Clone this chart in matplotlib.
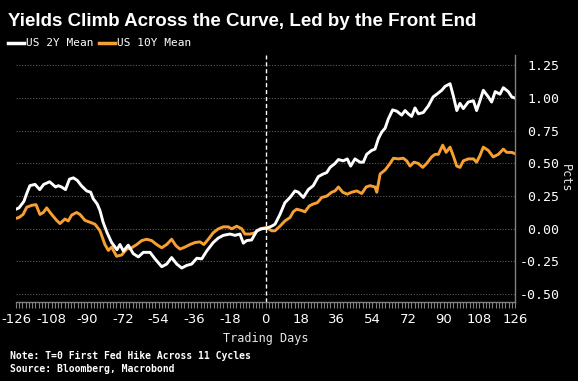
import matplotlib.pyplot as plt
import numpy as np

# Data (trading days relative to first hike)
days_2y = [-126, -124.5, -122, -120.6, -119, -116.4, -114, -112, -109, -106, -104.6, -103, -101,
           -99, -97, -95, -93, -90.3, -88.3, -87, -85, -83.6, -82, -80, -77.7, -75, -73.5,
           -71.8, -69.3, -66.8, -64.2, -61.7, -58.3, -55.8, -52.4, -49.9, -47.4, -44.8,
           -42.3, -39.8, -37.3, -34.7, -32.2, -29.7, -26.4, -23.8, -21.3, -17.9, -15.4,
           -12.9, -11.2, -9.5, -7, -4.4, -1.9, 0.6, 3.1, 4.8, 7.3, 9.8, 12.4, 14.9, 16.6,
           19.1, 21.6, 24.1, 26.7, 29.2, 30.9, 32.6, 35.1, 36.8, 39.3, 41.3, 43, 45.2, 47.7,
           49.4, 51.1, 53.6, 55.3, 57, 58.7, 60.4, 62, 64.2, 66.3, 68.8, 70.5, 72.1, 73.8,
           75.5, 77.2, 79.7, 82.2, 84.7, 86.5, 89, 90.7, 93.2, 94.8, 96.6, 98.2, 99.9,
           102.4, 105, 106.6, 108.3, 110, 112.5, 114.2, 116, 118.4, 120.1, 122.6, 124.3, 126]
us2y = [0.15, 0.16, 0.21, 0.27, 0.33, 0.34, 0.30, 0.34, 0.36, 0.32, 0.33, 0.32, 0.30,
        0.38, 0.39, 0.37, 0.33, 0.29, 0.28, 0.23, 0.19, 0.14, 0.05, -0.03, -0.105, -0.16, -0.12,
        -0.17, -0.125, -0.19, -0.215, -0.18, -0.18, -0.23, -0.29, -0.27, -0.22, -0.27,
        -0.30, -0.28, -0.27, -0.225, -0.23, -0.17, -0.105, -0.07, -0.05, -0.04, -0.05,
        -0.04, -0.11, -0.09, -0.085, -0.015, 0.0, 0.005, 0.02, 0.035, 0.11, 0.20, 0.24, 0.29, 0.28,
        0.24, 0.30, 0.33, 0.40, 0.42, 0.43, 0.47, 0.50, 0.53, 0.52, 0.535, 0.48, 0.535, 0.51,
        0.51, 0.57, 0.60, 0.61, 0.69, 0.74, 0.77, 0.84, 0.91, 0.90, 0.87, 0.905, 0.88, 0.86,
        0.925, 0.88, 0.89, 0.94, 1.01, 1.03, 1.06, 1.09, 1.11, 1.02, 0.905, 0.96, 0.92,
        0.97, 0.98, 0.905, 0.98, 1.06, 1.01, 0.97, 1.05, 1.03, 1.08, 1.05, 1.01, 1.0]

days_10y = [-126, -124.5, -122.4, -120.6, -118, -115.9, -113.9, -112.2, -110.5, -108, -105.5,
            -103.8, -101.3, -99.6, -97.9, -95.4, -93.7, -91.2, -88.6, -86.1, -83.6, -81.1,
            -79.4, -77.7, -75.2, -72.6, -70.1, -67.6, -65, -62.5, -60, -57.5, -55, -52.4,
            -49.9, -47.4, -45.2, -43.2, -40.7, -38.1, -35.6, -33.1, -31.1, -28.9, -26.4,
            -23.8, -21.3, -18.8, -17.1, -14.5, -12, -10.4, -7.8, -5.3, -2.8, 0.6, 3.1, 4.8,
            7.3, 9.8, 12.4, 14, 15.7, 18.3, 19.9, 22.1, 24.1, 26.2, 28.4, 30.9, 33.4, 35.1,
            36.8, 39, 41.3, 43.5, 46.1, 48.6, 50.8, 52.8, 55.3, 56.2, 57.9, 60.4, 62.9, 64.6,
            67.1, 69.6, 71.3, 73, 75, 77.2, 79.4, 81.4, 83.9, 85.6, 87.3, 89.5, 91.2, 93.2,
            94.8, 96.6, 98.2, 99.9, 102.4, 105, 106.6, 108.3, 110, 112.5, 115, 117.6, 120.1,
            121.8, 124.3, 126]
us10y = [0.08, 0.087, 0.11, 0.165, 0.18, 0.185, 0.11, 0.125, 0.16, 0.11, 0.065,
         0.04, 0.075, 0.06, 0.105, 0.125, 0.11, 0.065, 0.05, 0.035, -0.015, -0.12,
         -0.165, -0.14, -0.21, -0.20, -0.155, -0.145, -0.12, -0.09, -0.08, -0.09, -0.12, -0.145,
         -0.12, -0.08, -0.13, -0.155, -0.14, -0.12, -0.105, -0.10, -0.12, -0.08, -0.03,
         0.0, 0.015, 0.015, 0.0, 0.02, 0.0, -0.04, -0.04, -0.03, 0.0, 0.01, -0.015, -0.015,
         0.02, 0.06, 0.087, 0.13, 0.15, 0.14, 0.13, 0.175, 0.19, 0.20, 0.24, 0.25, 0.28, 0.29,
         0.32, 0.28, 0.265, 0.28, 0.29, 0.27, 0.32, 0.33, 0.32, 0.28, 0.42, 0.45, 0.50, 0.54,
         0.535, 0.54, 0.52, 0.48, 0.51, 0.50, 0.47, 0.50, 0.55, 0.57, 0.57, 0.64, 0.585, 0.625,
         0.56, 0.48, 0.47, 0.52, 0.535, 0.535, 0.51, 0.56, 0.625, 0.60, 0.55, 0.57, 0.61,
         0.585, 0.585, 0.575]

x_ticks = [-126, -108, -90, -72, -54, -36, -18, 0, 18, 36, 54, 72, 90, 108, 126]
y_ticks = [-0.5, -0.25, 0.0, 0.25, 0.5, 0.75, 1.0, 1.25]

WHITE = '#FFFFFF'
ORANGE = '#F7A031'
GREY = '#808080'
MONO = 'DejaVu Sans Mono'

fig = plt.figure(figsize=(5.78, 3.81), dpi=100, facecolor='black')
ax = fig.add_axes([16 / 578, 1 - 302 / 381, (515 - 16) / 578, (302 - 55) / 381])
ax.set_facecolor('black')

ax.plot(days_10y, us10y, color=ORANGE, lw=2.1, solid_joinstyle='round')
ax.plot(days_2y, us2y, color=WHITE, lw=2.1, solid_joinstyle='round')
ax.axvline(0, color=WHITE, lw=1.0, ls=(0, (3, 2)))

ax.set_xlim(-126, 126)
ax.set_ylim(-0.56, 1.33)

# grid
for y in y_ticks:
    ax.axhline(y, color='#5a5a5a', lw=0.8, ls=(0, (1, 1.5)), zorder=0)

# spines
for s in ['left', 'top']:
    ax.spines[s].set_visible(False)
ax.spines['right'].set_color(GREY)
ax.spines['bottom'].set_color(GREY)
ax.spines['right'].set_linewidth(1)
ax.spines['bottom'].set_linewidth(1)

# x axis
ax.set_xticks(x_ticks)
ax.set_xticklabels([str(t) for t in x_ticks], fontsize=9.5, color=WHITE)
ax.set_xticks(np.linspace(-126, 126, 155), minor=True)
ax.tick_params(axis='x', which='both', direction='out', length=4, width=0.8,
               color=GREY, pad=4)
ax.set_xlabel('Trading Days', fontsize=8.5, color='#e6e6e6', family=MONO, labelpad=4)

# y axis on right
ax.yaxis.tick_right()
ax.set_yticks(y_ticks)
ax.set_yticklabels([f'{t:.2f}' for t in y_ticks], fontsize=9.5, color=WHITE, family=MONO)
for lab in ax.get_yticklabels():
    lab.set_horizontalalignment('right')
ax.tick_params(axis='y', length=0, pad=32)
ax.yaxis.set_label_position('right')
ax.set_ylabel('Pcts', fontsize=8.5, color='#e6e6e6', family=MONO, rotation=270, labelpad=9)

# title and legend
fig.text(8 / 578, 1 - 26 / 381, 'Yields Climb Across the Curve, Led by the Front End',
         fontsize=13.5, fontweight='bold', color=WHITE, family='Liberation Sans',
         va='baseline', ha='left')
fig.add_artist(plt.Line2D([8 / 578, 24 / 578], [1 - 43 / 381] * 2, color=WHITE, lw=2.5))
fig.text(26 / 578, 1 - 43 / 381, 'US 2Y Mean', fontsize=8, color=WHITE, family=MONO,
         va='center', ha='left')
fig.add_artist(plt.Line2D([99 / 578, 115 / 578], [1 - 43 / 381] * 2, color=ORANGE, lw=2.5))
fig.text(117 / 578, 1 - 43 / 381, 'US 10Y Mean', fontsize=8, color=WHITE, family=MONO,
         va='center', ha='left')

# notes
fig.text(10 / 578, 1 - 356 / 381, 'Note: T=0 First Fed Hike Across 11 Cycles',
         fontsize=7, fontweight='bold', color=WHITE, family=MONO, va='center', ha='left')
fig.text(10 / 578, 1 - 369 / 381, 'Source: Bloomberg, Macrobond',
         fontsize=7, fontweight='bold', color=WHITE, family=MONO, va='center', ha='left')

fig.savefig('out.png', dpi=100, facecolor='black')
